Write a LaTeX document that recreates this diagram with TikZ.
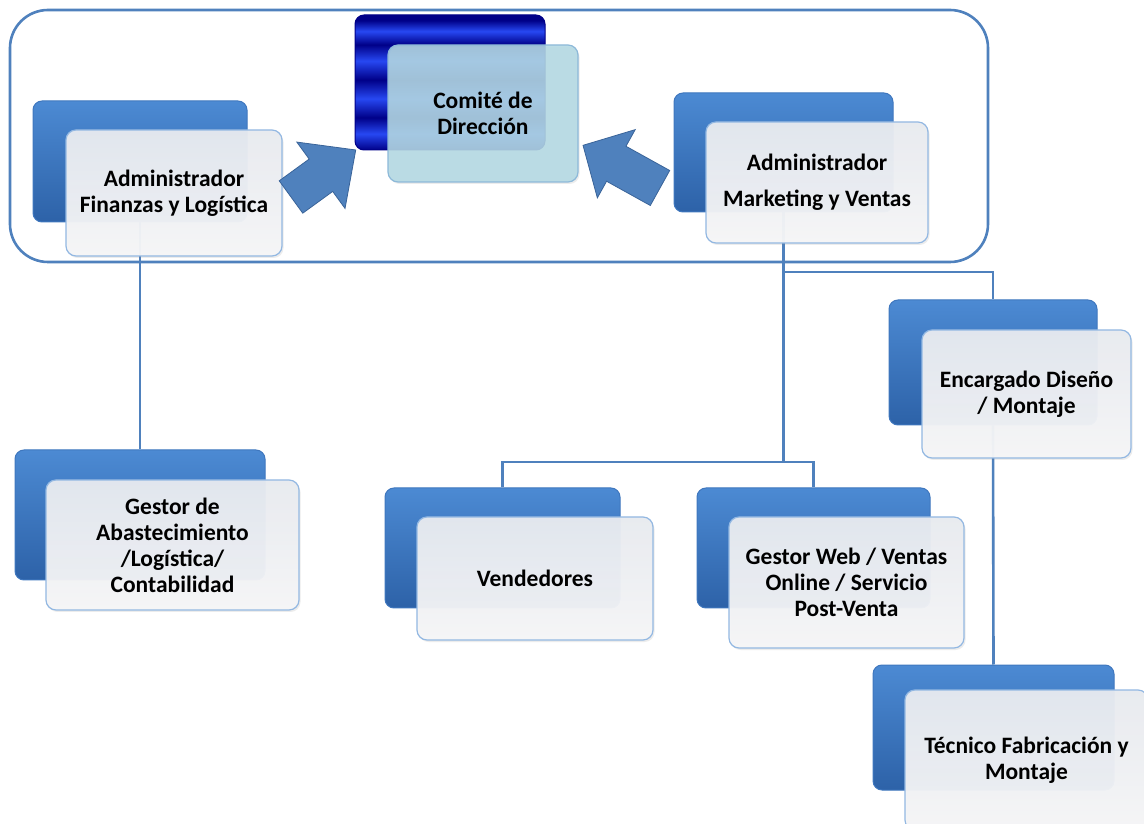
\documentclass[tikz,border=0pt]{standalone}
\usepackage{fontspec}
\setmainfont{Carlito}
\usetikzlibrary{shadows,backgrounds}
\definecolor{lineblue}{HTML}{4F81BD}
\definecolor{backtop}{HTML}{4C8AD3}
\definecolor{backbot}{HTML}{2D62A8}
\definecolor{backdraw}{HTML}{3F77BE}
\definecolor{fronttop}{HTML}{E8EBF0}
\definecolor{frontbot}{HTML}{F6F6F7}
\definecolor{frontdraw}{HTML}{93B8E2}
\definecolor{comfill}{HTML}{B4D9E3}
\definecolor{comdraw}{HTML}{8DB9D9}
\definecolor{navyA}{HTML}{000088}
\definecolor{navyB}{HTML}{2748F2}
\definecolor{arrowfill}{HTML}{4F81BD}
\definecolor{arrowdraw}{HTML}{3A6499}
\pgfdeclareverticalshading{comiteshade}{100bp}{color(0bp)=(navyA); color(25bp)=(navyA); color(31bp)=(navyB); color(37bp)=(navyA); color(44bp)=(navyB); color(51bp)=(navyA); color(58bp)=(navyB); color(64bp)=(navyA); color(69bp)=(navyB); color(73bp)=(navyA); color(75bp)=(navyA); color(100bp)=(navyA)}
\begin{document}
\begin{tikzpicture}[x=1pt,y=1pt,
  backbox/.style={rectangle, rounded corners=9pt, top color=backtop, bottom color=backbot, draw=backdraw, line width=1pt},
  comback/.style={rectangle, rounded corners=9pt, shading=comiteshade, draw=navyA, line width=1pt},
  frontbox/.style={rectangle, rounded corners=10pt, top color=fronttop, bottom color=frontbot, fill opacity=0.96, text opacity=1, draw=frontdraw, line width=1.2pt, align=center, text=black, font=\bfseries\fontsize{23.5}{26}\selectfont, drop shadow={opacity=0.15, shadow xshift=1.5pt, shadow yshift=-2pt}},
  comfront/.style={shading=axis, top color=comfill, bottom color=comfill, fill opacity=0.88, draw=comdraw},
  conn/.style={draw=lineblue, line width=2.6pt},
  blockarrow/.style={fill=arrowfill, draw=arrowdraw, line width=0.8pt, line join=miter}]
\useasboundingbox (0,0) rectangle (1144,823);

% outer frame
\draw[lineblue, line width=2.6pt, rounded corners=38pt] (10,561) rectangle (988,813);

% back boxes
\node[comback, minimum width=190pt, minimum height=135pt] (comB) at (450,740.5) {};
\node[backbox, minimum width=214pt, minimum height=121pt] (finB) at (140,661.5) {};
\node[backbox, minimum width=219pt, minimum height=119pt] (mktB) at (783.5,670.5) {};
\node[backbox, minimum width=250pt, minimum height=130pt] (gesB) at (140,308) {};
\node[backbox, minimum width=235pt, minimum height=120pt] (venB) at (502.5,275) {};
\node[backbox, minimum width=233pt, minimum height=120pt] (webB) at (813.5,275) {};
\node[backbox, minimum width=208pt, minimum height=125pt] (encB) at (993,460.5) {};
\node[backbox, minimum width=241pt, minimum height=125pt] (tecB) at (993.5,95.5) {};

% front boxes
\node[frontbox, comfront, minimum width=190pt, minimum height=137pt] (comF) at (483,709.5) {Comité de\\Dirección};
\node[frontbox, minimum width=216pt, minimum height=126pt] (finF) at (174,630) {Administrador\\Finanzas y Logística};
\node[frontbox, minimum width=222pt, minimum height=121pt] (mktF) at (817,640.5) {Administrador\\[10pt]Marketing y Ventas};
\node[frontbox, minimum width=253pt, minimum height=130pt] (gesF) at (172.5,278) {Gestor de\\Abastecimiento\\/Logística/\\Contabilidad};
\node[frontbox, minimum width=236pt, minimum height=123pt] (venF) at (535,244.5) {Vendedores};
\node[frontbox, minimum width=235pt, minimum height=131pt] (webF) at (846.5,240.5) {Gestor Web / Ventas\\Online / Servicio\\Post-Venta};
\node[frontbox, minimum width=209pt, minimum height=128pt] (encF) at (1026.5,429) {Encargado Diseño\\/ Montaje};
\node[frontbox, minimum width=243pt, minimum height=140pt] (tecF) at (1026.5,63) {Técnico Fabricación y\\Montaje};

% connectors (behind the boxes)
\begin{scope}[on background layer]
\fill[white] (0,0) rectangle (1144,823);
\coordinate (bar) at (0,361);
\coordinate (branch) at (0,551);
\draw[conn] (finB.south) -- (gesB.north);
\draw[conn] (mktB.south) -- (mktB.south |- bar);
\draw[conn] (venB.north) -- (venB.north |- bar) -| (webB.north);
\draw[conn] (mktB.south |- branch) -| (encB.north);
\draw[conn] (encB.south) -- (tecB.north);
\end{scope}

% block arrows pointing to the committee
\draw[blockarrow, shift={(291,626)}, rotate=36]
  (0,-20) -- (37,-20) -- (37,-41) -- (80,0) -- (37,41) -- (37,20) -- (0,20) -- cycle;
\draw[blockarrow, shift={(660,635)}, rotate=151]
  (0,-20) -- (50,-20) -- (50,-39) -- (88,0) -- (50,39) -- (50,20) -- (0,20) -- cycle;
\end{tikzpicture}
\end{document}
